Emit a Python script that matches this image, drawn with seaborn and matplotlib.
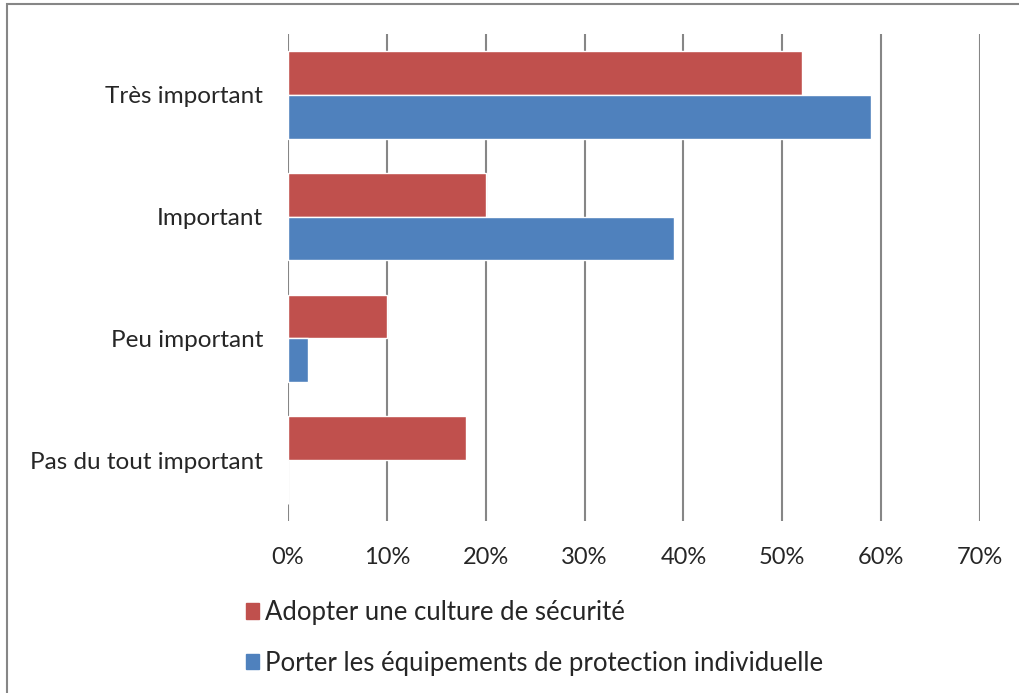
import matplotlib
matplotlib.use("Agg")
import matplotlib.pyplot as plt
import matplotlib.patches as mpatches
import seaborn as sns
import pandas as pd

categories = ["Très important", "Important", "Peu important", "Pas du tout important"]
series_names = ["Adopter une culture de sécurité",
                "Porter les équipements de protection individuelle"]
culture = [52, 20, 10, 18]
epi = [59, 39, 2, 0]
xticks = [0, 10, 20, 30, 40, 50, 60, 70]
xtick_labels = [f"{v}%" for v in xticks]
colors = ["#C0504D", "#4F81BD"]

df = pd.DataFrame({
    "categorie": categories * 2,
    "serie": [series_names[0]] * 4 + [series_names[1]] * 4,
    "valeur": culture + epi,
})

sns.set_theme(style="white")
plt.rcParams["font.family"] = ["Lato", "DejaVu Sans"]

fig = plt.figure(figsize=(10.19, 6.93), dpi=100)
ax = fig.add_axes([288 / 1019, 1 - 521 / 693, (980 - 288) / 1019, (521 - 34) / 693])

sns.barplot(data=df, y="categorie", x="valeur", hue="serie", order=categories,
            hue_order=series_names, palette=colors, orient="h", width=0.72,
            saturation=1, ax=ax, legend=False, zorder=3)

ax.set_xlim(0, 70)
ax.set_xticks(xticks)
ax.set_xticklabels(xtick_labels, fontsize=17)
ax.tick_params(axis="y", labelsize=17.5, length=0, pad=18)
ax.tick_params(axis="x", length=0, pad=19)
ax.set_xlabel("")
ax.set_ylabel("")
for s in ax.spines.values():
    s.set_visible(False)
for v in xticks:
    ax.axvline(v, color="#868686", lw=1.5, zorder=1)

# legend below the plot
handles = [mpatches.Patch(color=c, label=n) for c, n in zip(colors, series_names)]
fig.legend(handles=handles, loc="upper left", bbox_to_anchor=(223 / 1019, 1 - 577 / 693),
           frameon=False, fontsize=18.5, handlelength=0.5, handleheight=0.55,
           handletextpad=0.22, labelspacing=1.0)

# chart frame
fig.patches.append(mpatches.Rectangle((7 / 1019, -0.05), 1.1, 1 - 4 / 693 + 0.05,
                                      transform=fig.transFigure, fill=False,
                                      edgecolor="#868686", lw=1.5))

fig.savefig("out.png", dpi=100)
